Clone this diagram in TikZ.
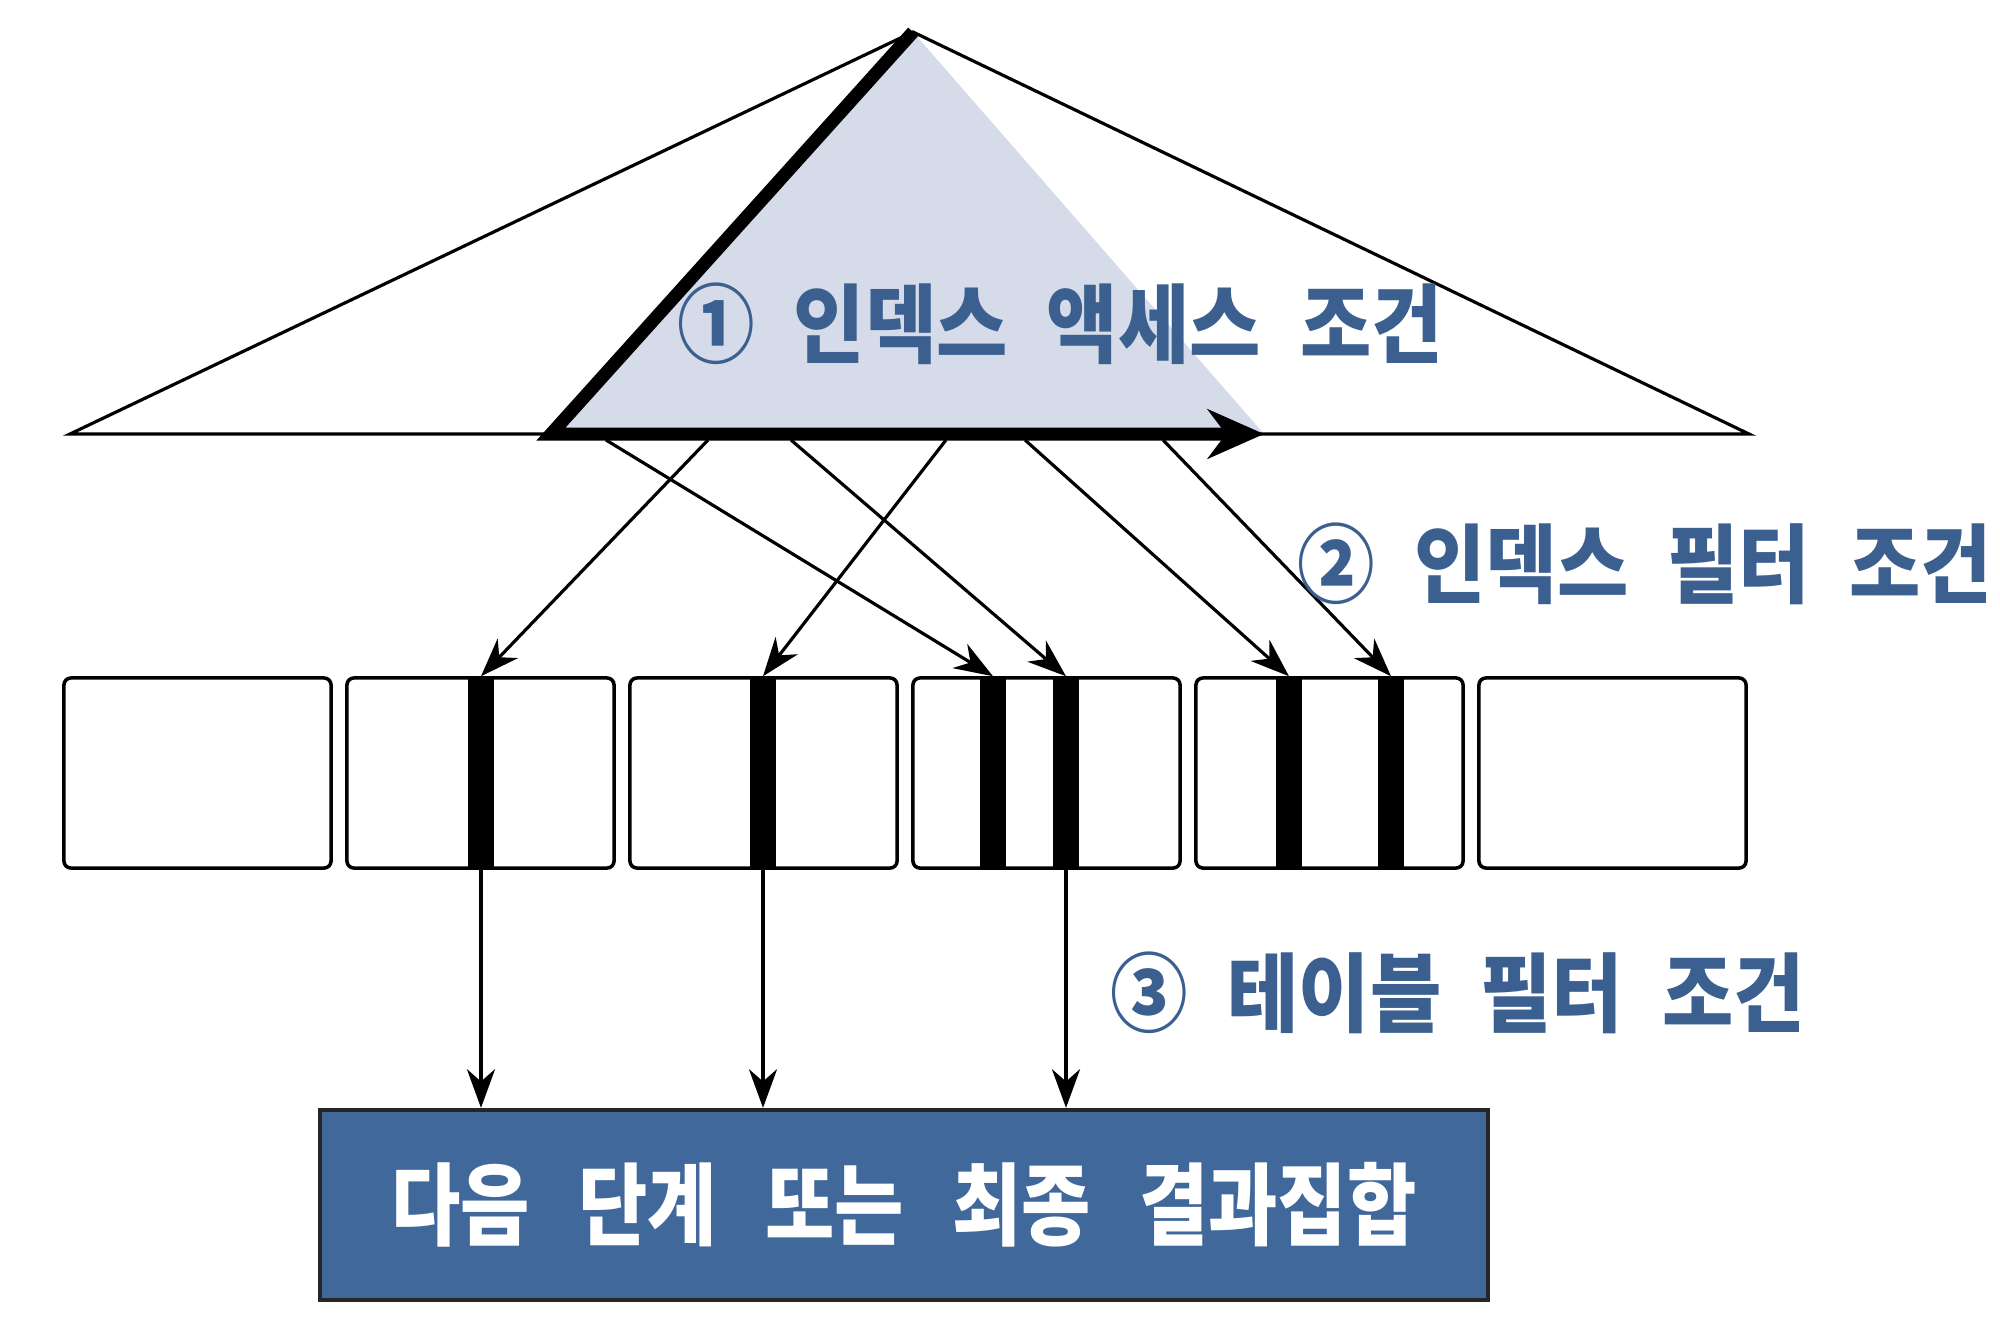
\documentclass[tikz,border=0pt]{standalone}
\usepackage{fontspec}
\usepackage{tikz}
\usetikzlibrary{calc,positioning,arrows.meta}
\newfontfamily\krfont{Noto Sans CJK KR}[FakeStretch=0.9,WordSpace=2.2]
\newfontfamily\krwide{Noto Sans CJK KR}[FakeStretch=0.84,WordSpace=2.8]
\definecolor{condblue}{HTML}{3B6090}
\definecolor{resblue}{HTML}{41689B}
\definecolor{accgray}{HTML}{D5DBE9}

\begin{document}
\begin{tikzpicture}[x=0.01cm, y=-0.01cm,
    blk/.style={draw,line width=1pt,rounded corners=2pt,minimum width=2.67cm,minimum height=1.9cm,inner sep=0pt},
    hit/.style={fill=black,minimum width=0.26cm,minimum height=1.92cm,inner sep=0pt},
    arr/.style={-{Stealth[length=11pt,width=8pt,inset=3.5pt]},line width=0.9pt},
    cond/.style={font=\krfont\bfseries\fontsize{24.5}{28}\selectfont,text=condblue,inner sep=0pt}]
  \useasboundingbox (0,0) rectangle (2000,1330);

  % index tree
  \coordinate (top) at (913,32);
  \coordinate (tl) at (70,434);
  \coordinate (tr) at (1749,434);
  \coordinate (gl) at (551,434);
  \coordinate (gr) at (1264,434);
  \fill[accgray] (top) -- (gl) -- (gr) -- cycle;
  \draw[line width=0.9pt] (tl) -- (top) -- (tr) -- cycle;

  % table blocks
  \foreach \i in {1,...,6}
    \node[blk] (b\i) at ({197.5+(\i-1)*283},773) {};
  \foreach \x [count=\j] in {481,763,993,1066,1289,1391}
    \node[hit] (k\j) at (\x,773) {};

  % index filter arrows
  \foreach \x [count=\j] in {708,946,606,791,1025,1163}
    \coordinate (s\j) at (\x,440);
  \draw[arr] (s1) -- (k1.north);
  \draw[arr] (s2) -- (k2.north);
  \draw[arr] (s3) -- (k3.north);
  \draw[arr] (s4) -- (k4.north);
  \draw[arr] (s5) -- (k5.north);
  \draw[arr] (s6) -- (k6.north);

  % access range
  \draw[line width=3.7pt,-{Stealth[length=16pt,width=14pt]}] (top) -- (gl) -- (gr);

  % result
  \node[draw=black!85,line width=1.2pt,fill=resblue,minimum width=11.68cm,minimum height=1.9cm,
        font=\krwide\bfseries\fontsize{25.5}{28}\selectfont,text=white] (res) at (904,1205) {다음 단계 또는 최종 결과집합};
  \draw[arr] (k1.south) -- (k1.south |- res.north);
  \draw[arr] (k2.south) -- (k2.south |- res.north);
  \draw[arr] (k4.south) -- (k4.south |- res.north);

  \node[cond] (c1) at (1060,324) {① 인덱스 액세스 조건};
  \node[cond] (c2) at (1645,564) {② 인덱스 필터 조건};
  \node[cond] (c3) at (1458,993) {③ 테이블 필터 조건};
\end{tikzpicture}
\end{document}
